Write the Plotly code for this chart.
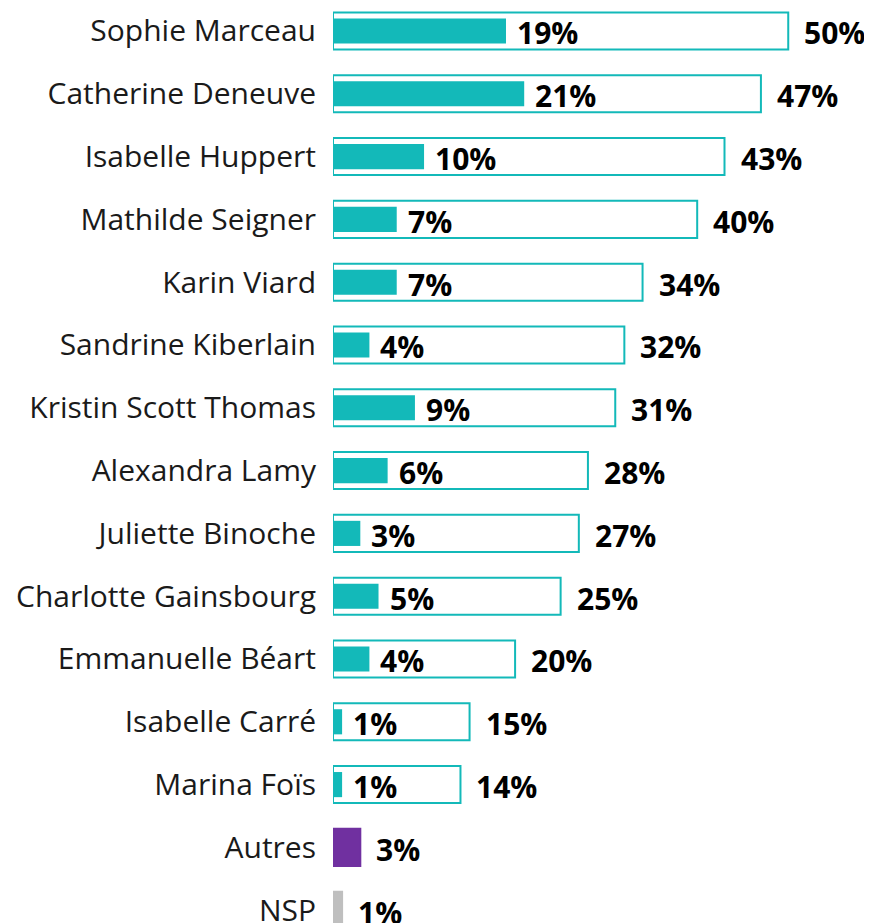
import plotly.graph_objects as go

categories = ["Sophie Marceau", "Catherine Deneuve", "Isabelle Huppert", "Mathilde Seigner",
              "Karin Viard", "Sandrine Kiberlain", "Kristin Scott Thomas", "Alexandra Lamy",
              "Juliette Binoche", "Charlotte Gainsbourg", "Emmanuelle Béart", "Isabelle Carré",
              "Marina Foïs", "Autres", "NSP"]
total_values = [50, 47, 43, 40, 34, 32, 31, 28, 27, 25, 20, 15, 14, 3, 1]
first_choice = [19, 21, 10, 7, 7, 4, 9, 6, 3, 5, 4, 1, 1]

TEAL = "#13B9B9"
PURPLE = "#7030A0"
GRAY = "#BFBFBF"

n_cand = len(first_choice)
outer_fill = ["white"] * n_cand + [PURPLE, GRAY]
outer_line = [TEAL] * n_cand + [PURPLE, GRAY]

fig = go.Figure()
fig.add_trace(go.Bar(
    y=categories, x=total_values, orientation="h", width=0.59,
    marker=dict(color=outer_fill, line=dict(color=outer_line, width=2)),
    hoverinfo="skip", showlegend=False,
))
fig.add_trace(go.Bar(
    y=categories[:n_cand], x=first_choice, orientation="h", width=0.40,
    marker=dict(color=TEAL, line=dict(width=0)),
    hoverinfo="skip", showlegend=False,
))

FONT = "Segoe UI, Open Sans, sans-serif"
annotations = []
for c, v in zip(categories, total_values):
    annotations.append(dict(x=v, y=c, xref="x", yref="y", text=f"<b>{v}%</b>",
                            showarrow=False, xanchor="left", yanchor="middle",
                            xshift=14, yshift=-2,
                            font=dict(family=FONT, size=30, color="black")))
for c, v in zip(categories[:n_cand], first_choice):
    annotations.append(dict(x=v, y=c, xref="x", yref="y", text=f"<b>{v}%</b>",
                            showarrow=False, xanchor="left", yanchor="middle",
                            xshift=9, yshift=-2,
                            font=dict(family=FONT, size=30, color="black")))

fig.update_layout(
    width=864, height=915,
    margin=dict(l=325, r=0, t=0, b=0, autoexpand=False),
    barmode="overlay",
    plot_bgcolor="white", paper_bgcolor="white",
    annotations=annotations,
    xaxis=dict(range=[0, 59.2], visible=False, fixedrange=True, automargin=False),
    yaxis=dict(range=[14.204, -0.366], autorange=False, showgrid=False, zeroline=False,
               showline=False, ticks="", ticklabelstandoff=16, automargin=False,
               tickfont=dict(family=FONT, size=30, color="#1a1a1a"), fixedrange=True),
)
fig.write_html("out.html")
